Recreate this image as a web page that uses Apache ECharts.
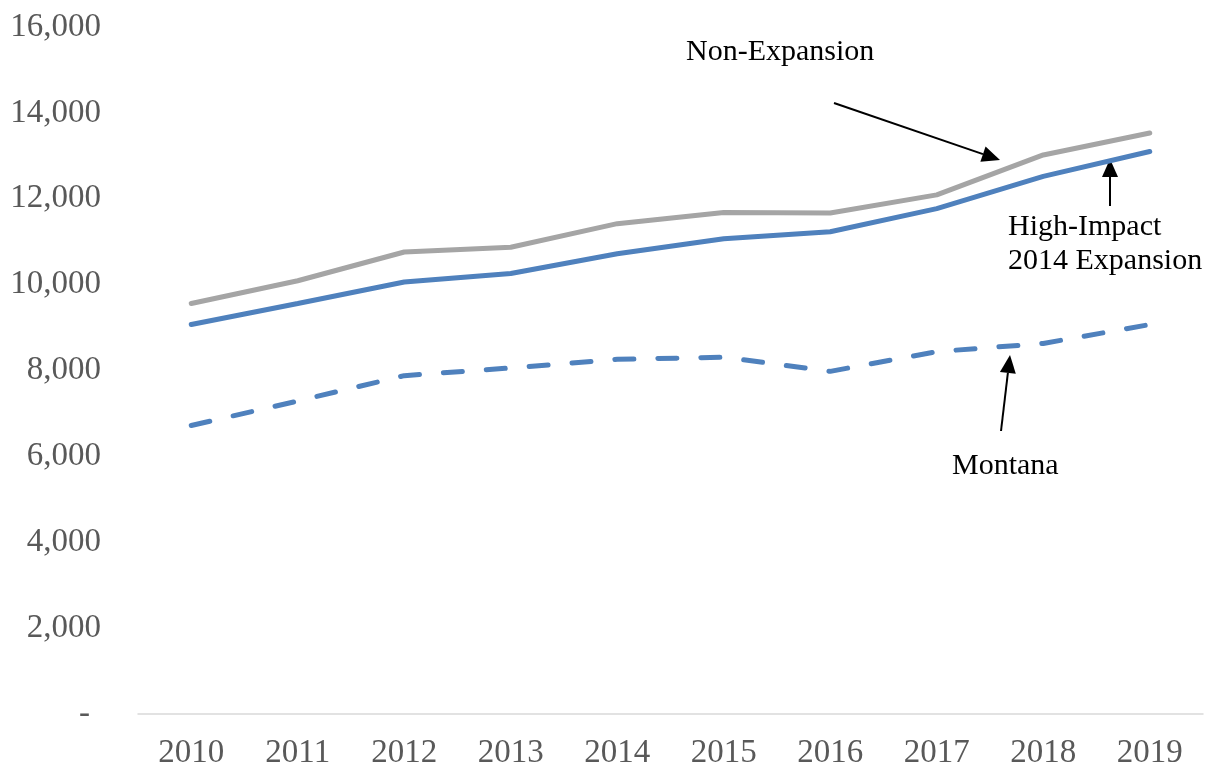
<!DOCTYPE html>
<html>
<head>
<meta charset="utf-8">
<script src="https://cdn.jsdelivr.net/npm/echarts@6/dist/echarts.min.js"></script>
<style>
    html, body { margin: 0; padding: 0; background: #fff; }
    #chart { width: 1211px; height: 770px; }
</style>
</head>
<body>
<div id="chart"></div>
<script>
const years = ['2010', '2011', '2012', '2013', '2014', '2015', '2016', '2017', '2018', '2019'];
const nonExpansion = [9560, 10090, 10760, 10870, 11420, 11680, 11670, 12090, 13020, 13530];
const highImpact = [9070, 9560, 10060, 10260, 10720, 11070, 11230, 11770, 12520, 13100];
const montana = [6720, 7290, 7880, 8060, 8260, 8310, 7980, 8440, 8630, 9070];

const font = '"Liberation Serif", serif';
const chart = echarts.init(document.getElementById('chart'));

// arrow drawn as line + triangle head
const arrow = (x1, y1, x2, y2) => {
    const a = Math.atan2(y2 - y1, x2 - x1);
    const len = 18, half = 8;
    const bx = x2 - len * Math.cos(a), by = y2 - len * Math.sin(a);
    const nx = -Math.sin(a) * half, ny = Math.cos(a) * half;
    return [
        { type: 'line', shape: { x1: x1, y1: y1, x2: bx, y2: by }, style: { stroke: '#000', lineWidth: 2 } },
        { type: 'polygon', shape: { points: [[x2, y2], [bx + nx, by + ny], [bx - nx, by - ny]] }, style: { fill: '#000' } }
    ];
};

const label = (text, x, y) => ({
    type: 'text', x: x, y: y,
    style: { text: text, font: '30px ' + font, fill: '#000', textVerticalAlign: 'middle' }
});

const option = {
    animation: false,
    grid: { left: 138, right: 8, top: 27, bottom: 55 },
    xAxis: {
        type: 'category',
        data: years,
        boundaryGap: true,
        axisLine: { lineStyle: { color: '#d9d9d9', width: 1.5 } },
        axisTick: { show: false },
        axisLabel: { color: '#595959', fontFamily: font, fontSize: 33, margin: 23 }
    },
    yAxis: {
        type: 'value',
        min: 0,
        max: 16000,
        interval: 2000,
        axisLine: { show: false },
        axisTick: { show: false },
        splitLine: { show: false },
        axisLabel: {
            color: '#595959', fontFamily: font, fontSize: 33, margin: 37,
            formatter: (v) => v === 0 ? '{d|-}' : v.toLocaleString('en-US'),
            rich: { d: { color: '#595959', fontFamily: font, fontSize: 33, padding: [0, 11, 0, 0] } }
        }
    },
    series: [
        {
            name: 'Non-Expansion', type: 'line', data: nonExpansion, symbol: 'none',
            lineStyle: { color: '#a5a5a5', width: 5, cap: 'round' }
        },
        {
            name: 'High-Impact 2014 Expansion', type: 'line', data: highImpact, symbol: 'none',
            lineStyle: { color: '#4f81bd', width: 5, cap: 'round' }
        },
        {
            name: 'Montana', type: 'line', data: montana, symbol: 'none',
            lineStyle: { color: '#4f81bd', width: 5, type: [19, 24], cap: 'round' }
        }
    ],
    graphic: [
        label('Non-Expansion', 686, 52),
        label('High-Impact', 1008, 227),
        label('2014 Expansion', 1008, 261),
        label('Montana', 952, 466),
        ...arrow(834, 103, 1000, 160),
        ...arrow(1110, 206, 1110, 159),
        ...arrow(1001, 431, 1010, 355)
    ]
};
chart.setOption(option);
</script>
</body>
</html>
